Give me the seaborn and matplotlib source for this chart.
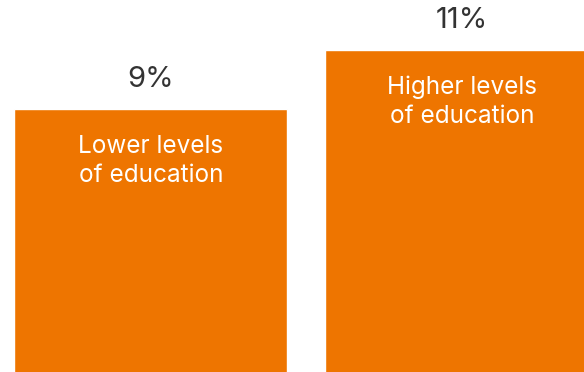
import matplotlib
matplotlib.use("Agg")
import matplotlib.pyplot as plt
import seaborn as sns
import pandas as pd

# Share by education level
categories = ["Lower levels\nof education", "Higher levels\nof education"]
values = [9, 11]
value_labels = ["9%", "11%"]

ORANGE = "#EE7500"
DARK = "#333333"

sns.set_theme(style="white")
plt.rcParams["font.family"] = ["Inter", "DejaVu Sans"]

fig = plt.figure(figsize=(5.84, 3.72), dpi=100)
ax = fig.add_axes([0, 0, 1, 1])

df = pd.DataFrame({"group": categories, "share": values})
sns.barplot(data=df, x="group", y="share", color=ORANGE, saturation=1,
            width=0.878, ax=ax)

ax.set_xlim(-0.485, 1.393)
ax.set_ylim(0.085, 12.7)
ax.axis("off")

for i, (v, lab, cat) in enumerate(zip(values, value_labels, categories)):
    ax.annotate(lab, (i, v), xytext=(0, 22), textcoords="offset pixels",
                ha="center", va="baseline", fontsize=21, color=DARK)
    ax.annotate(cat, (i, v), xytext=(0, -73), textcoords="offset pixels",
                ha="center", va="baseline", fontsize=17.5, color="white",
                linespacing=1.32)

fig.savefig("out.png", dpi=100)
